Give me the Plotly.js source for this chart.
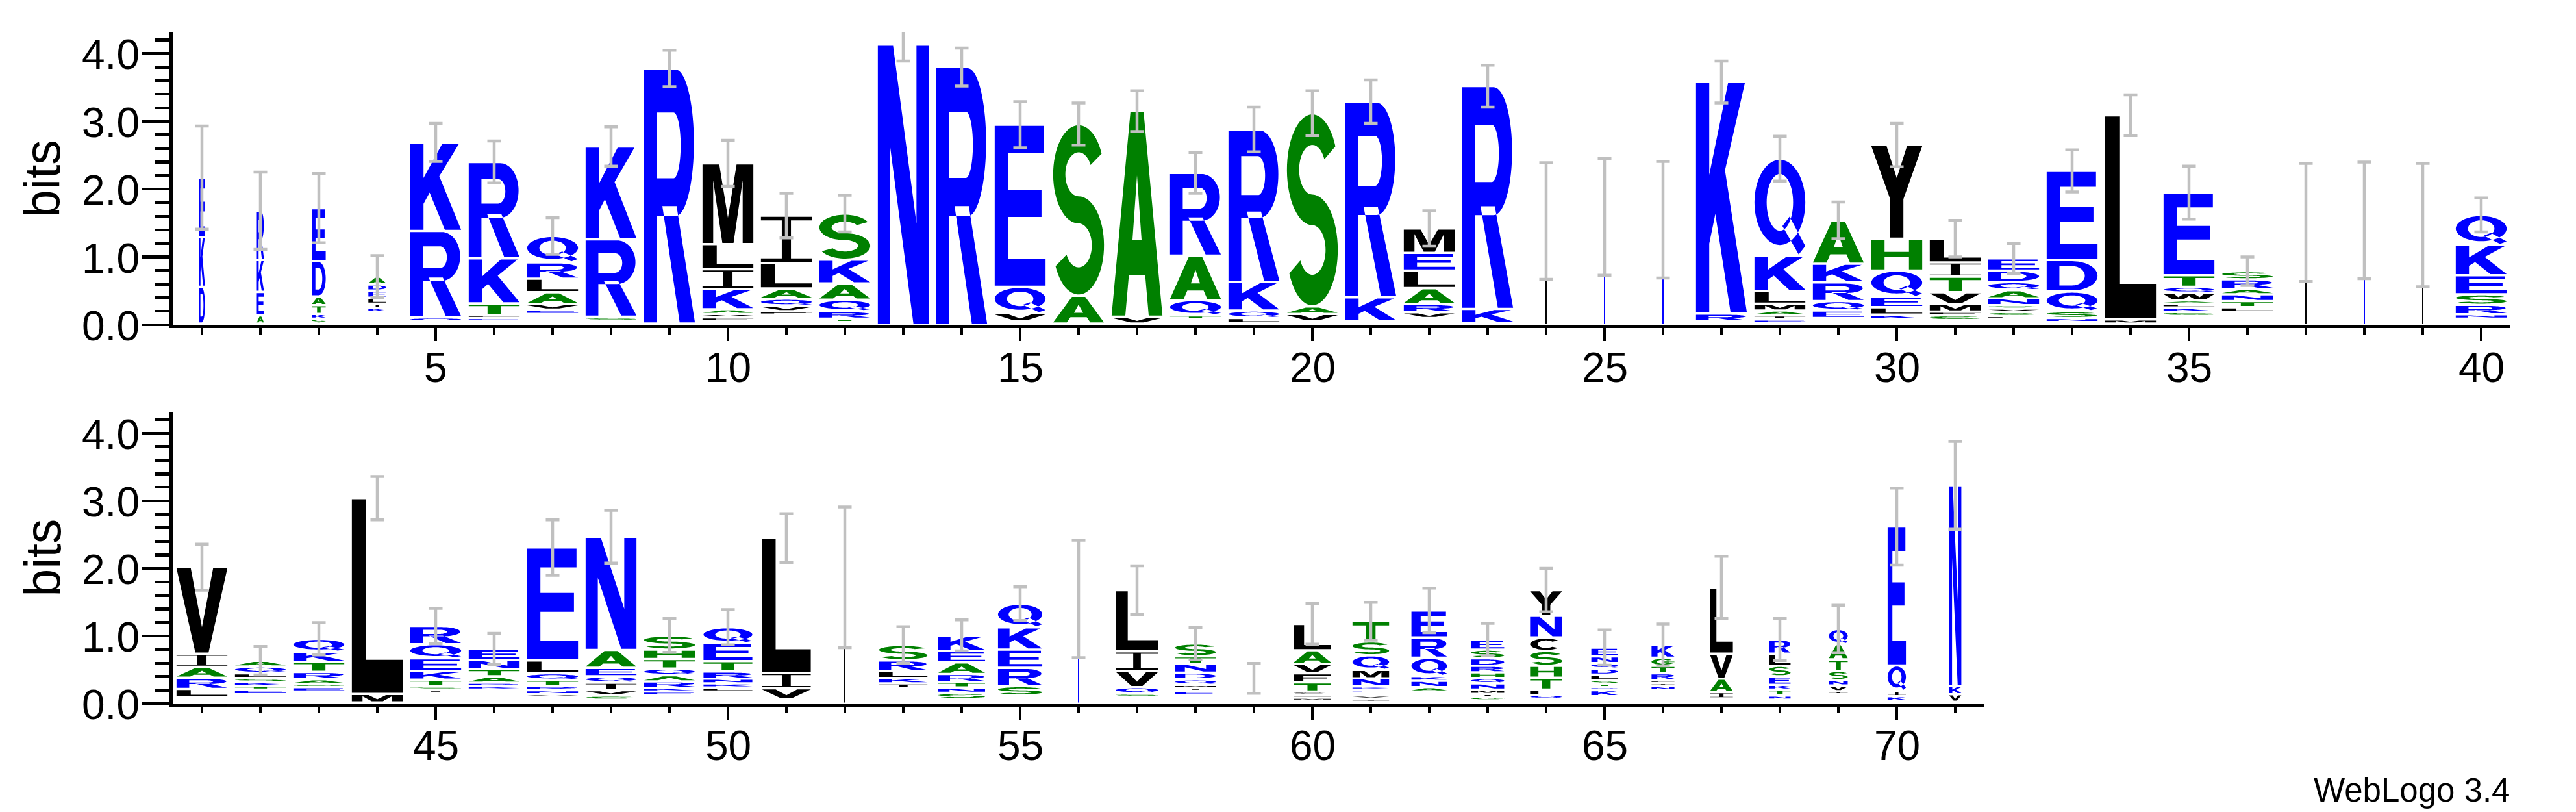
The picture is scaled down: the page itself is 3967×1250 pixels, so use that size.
<!DOCTYPE html>
<html>
<head>
<meta charset="utf-8">
<script src="https://cdn.plot.ly/plotly-3.0.1.min.js"></script>
<style>html,body{margin:0;padding:0;background:#fff;}</style>
</head>
<body>
<div id="chart" style="width:3967px;height:1250px;"></div>
<script>
const positions = [1,2,3,4,5,6,7,8,9,10,11,12,13,14,15,16,17,18,19,20,
  21,22,23,24,25,26,27,28,29,30,31,32,33,34,35,36,37,38,39,40,
  41,42,43,44,45,46,47,48,49,50,51,52,53,54,55,56,57,58,59,60,
  61,62,63,64,65,66,67,68,69,70,71];

// letters of each stack, listed bottom -> top
const stackLetters = ["DKE","AEKR","SKTADE","KILEDA","QRK","ELTKR","EVALRQ","SRK","R","FVAKILM",
  "FVQALI","TRQAKS","N","R","VQE","AS","VA","TQAR","LQKR","VAS",
  "KR","VRALEM","KR","L","K","E","RK","EIAMLKQ","EQRKA","KLEQHY",
  "SFMVTIL","LGVSNAQDE","NSQDE","ML","SKLAWQTE","LTNARS","L","K","V","NRSEKQ",
  "LRAIV","ETKSLQA","ESARTKQ","ML","ISTKEQR","KRATNE","VNRTQLE","SVIQEAN","EKRAQTHS","LKNRTEQ",
  "VIL","L","IKLRS","SNTRAEK","SREKQ","E","SQVIL","EIMQDNTS","","MICTFVAL",
  "IVLEKNMQST","ANKQRE","GIMNQHRDSE","QFTHSCNY","KRTSLDQNE","NILRTGK","IAVL","NTKESLR","IVNSTAQ","KIQE","VKN"];

// height (bits) of each letter, same order as stackLetters
const stackBits = [
  [0.54,0.73,0.88],[0.12,0.345,0.47,0.725],[0.07,0.07,0.13,0.13,0.52,0.78],[0.06,0.06,0.09,0.105,0.09,0.115],
  [0.06,1.275,1.305],[0.05,0.045,0.17,0.665,1.42],[0.065,0.08,0.175,0.2,0.24,0.39],[0.06,1.14,1.37],
  [3.76],[0.05,0.05,0.07,0.30,0.29,0.37,1.19],
  [0.05,0.08,0.105,0.15,0.375,0.70],[0.05,0.11,0.17,0.24,0.35,0.68],[4.13],[3.80],[0.12,0.39,2.39],
  [0.41,2.53],[0.10,3.03],[0.06,0.225,0.655,1.22],[0.07,0.11,0.425,2.245],[0.11,0.11,2.85],
  [0.355,2.885],[0.085,0.12,0.235,0.26,0.26,0.36],[0.205,3.285],[1.53],[1.59],[1.55],[0.115,3.415],
  [0.05,0.06,0.07,0.10,0.19,0.52,1.43],[0.11,0.14,0.275,0.275,0.64],[0.07,0.11,0.15,0.39,0.47,1.38],
  [0.07,0.055,0.11,0.175,0.23,0.21,0.35],[0.045,0.06,0.05,0.05,0.10,0.12,0.12,0.17,0.18],
  [0.06,0.10,0.29,0.465,1.315],[0.06,3.01],[0.06,0.065,0.055,0.05,0.11,0.09,0.17,1.22],
  [0.07,0.09,0.10,0.08,0.14,0.12],[1.51],[1.54],[1.47],[0.065,0.14,0.155,0.28,0.445,0.445],
  [0.12,0.165,0.16,0.195,1.28],[0.07,0.05,0.06,0.06,0.07,0.10,0.085],[0.065,0.045,0.07,0.11,0.15,0.15,0.19],
  [0.125,2.895],[0.05,0.045,0.10,0.125,0.19,0.21,0.27],[0.05,0.05,0.095,0.105,0.135,0.165],
  [0.045,0.06,0.06,0.09,0.10,0.19,1.67],[0.06,0.08,0.11,0.095,0.125,0.265,1.675],
  [0.06,0.055,0.095,0.09,0.10,0.14,0.14,0.21],[0.06,0.06,0.07,0.105,0.155,0.265,0.235],
  [0.16,0.225,1.995],[1.87],[0.07,0.08,0.10,0.16,0.23],[0.09,0.08,0.08,0.12,0.17,0.17,0.23],
  [0.14,0.27,0.27,0.33,0.35],[1.55],[0.05,0.095,0.24,0.29,0.905],[0.07,0.045,0.045,0.08,0.10,0.13,0.11,0.19],
  [],[0.045,0.045,0.045,0.135,0.135,0.14,0.20,0.39],
  [0.045,0.045,0.045,0.045,0.045,0.12,0.125,0.215,0.205,0.30],[0.065,0.095,0.07,0.27,0.30,0.40],
  [0.05,0.045,0.065,0.09,0.08,0.085,0.095,0.11,0.13,0.15],[0.06,0.08,0.175,0.175,0.22,0.20,0.32,0.38],
  [0.09,0.045,0.045,0.06,0.08,0.09,0.08,0.10,0.13],[0.06,0.045,0.045,0.10,0.11,0.12,0.19],
  [0.09,0.20,0.37,0.98],[0.06,0.09,0.07,0.125,0.155,0.18,0.21],[0.045,0.085,0.08,0.135,0.17,0.225,0.225],
  [0.07,0.08,0.375,2.055],[0.11,0.12,2.97]];

// bits from residues too rare to be printed (bottom of each stack)
const hiddenBits = [0.02,0.02,0.02,0.19,0.05,0.05,0.16,0.06,0.02,0.06,
  0.15,0.04,0,0,0.05,0.02,0.02,0.08,0.03,0.05,
  0.05,0.10,0.03,0,0,0,0.05,0.03,0.10,0.08,
  0.07,0.085,0.04,0.02,0.13,0.19,0,0,0,0.09,
  0.10,0.14,0.18,0.02,0.16,0.21,0.095,0.06,0.12,0.18,
  0.07,0,0.23,0.07,0.12,0,0.10,0.12,0.375,0.045,
  0.03,0.18,0.05,0.07,0.11,0.20,0.08,0.06,0.14,0.04,0.03];

// relative stack width (fraction of sequences occupying the column)
const stackWidth = [0.12,0.14,0.27,0.35,1,1,1,1,1,1,
  1,1,1,1,1,1,1,1,1,1,
  1,1,1,0.025,0.025,0.025,1,1,1,1,
  1,1,1,1,1,1,0.025,0.025,0.025,1,
  1,1,1,1,1,1,1,1,1,0.96,
  0.96,0.025,0.95,0.92,0.87,0.025,0.83,0.80,0.78,0.74,
  0.72,0.70,0.65,0.63,0.52,0.45,0.45,0.42,0.37,0.36,0.24];

// half-height of the error bar (bits)
const errorBits = [0.76,0.57,0.51,0.31,0.28,0.31,0.27,0.29,0.27,0.34,
  0.33,0.27,0.24,0.28,0.34,0.31,0.30,0.30,0.33,0.33,
  0.32,0.26,0.31,0.86,0.86,0.86,0.31,0.33,0.27,0.32,
  0.27,0.22,0.31,0.30,0.39,0.21,0.87,0.86,0.91,0.25,
  0.34,0.21,0.24,0.32,0.26,0.23,0.41,0.39,0.25,0.26,
  0.36,1.04,0.27,0.23,0.25,0.87,0.36,0.24,0.22,0.30,
  0.28,0.33,0.24,0.32,0.26,0.31,0.46,0.31,0.35,0.57,0.65];

const xTickLabels = ["5","10","15","20","25","30","35","40","45","50","55","60","65","70"];
const yTickValues = [0, 1, 2, 3, 4];
const yTickLabels = ["0.0","1.0","2.0","3.0","4.0"];

// ---------------- STYLE ----------------
const FONT = "Liberation Sans, Arial, Helvetica, sans-serif";
const BLUE = "#0000ff", GREEN = "#008000", BLACK = "#000000";
const letterColor = {};
"RKDENQ".split("").forEach(c => letterColor[c] = BLUE);
"SGHTAP".split("").forEach(c => letterColor[c] = GREEN);
"YVMCLFIW".split("").forEach(c => letterColor[c] = BLACK);
const FULL_W = 0.87;   // glyph width at full column occupancy (axis units)
const PAD = 0.017;     // vertical padding of each glyph box (bits)

// ---------------- GLYPH OUTLINES (unit box 0..100) ----------------
function arc(cx, cy, rx, ry, a0, a1, n) {
  n = n || 36; const p = [];
  for (let i = 0; i <= n; i++) {
    const a = (a0 + (a1 - a0) * i / n) * Math.PI / 180;
    p.push([cx + rx * Math.cos(a), cy + ry * Math.sin(a)]);
  }
  return p;
}
const GLYPHS = {
  A: [{p:[[0,0],[27,0],[34,20],[66,20],[73,0],[100,0],[63,100],[37,100]]},{p:[[41,37],[59,37],[50,69]],h:1}],
  C: [{p:arc(50,50,50,50,42,318,44).concat(arc(50,50,26,34,318,42,44))}],
  D: [{p:[[0,0],[50,0]].concat(arc(50,50,50,50,-90,90,36),[[0,100]])},
      {p:[[25,17],[50,17]].concat(arc(50,50,25,33,-90,90,36),[[25,83]]),h:1}],
  E: [{p:[[0,0],[100,0],[100,17],[26,17],[26,43],[92,43],[92,60],[26,60],[26,83],[97,83],[97,100],[0,100]]}],
  F: [{p:[[0,0],[26,0],[26,41],[88,41],[88,58],[26,58],[26,83],[100,83],[100,100],[0,100]]}],
  G: [{p:arc(50,50,50,50,40,360,44).concat(arc(50,50,26,34,360,40,44))},{p:[[52,38],[100,38],[100,55],[52,55]]}],
  H: [{p:[[0,0],[26,0],[26,42],[74,42],[74,0],[100,0],[100,100],[74,100],[74,59],[26,59],[26,100],[0,100]]}],
  I: [{p:[[0,0],[100,0],[100,8],[59,8],[59,92],[100,92],[100,100],[0,100],[0,92],[41,92],[41,8],[0,8]]}],
  K: [{p:[[0,0],[26,0],[26,30],[38,43],[68,0],[100,0],[57,62],[96,100],[63,100],[26,60],[26,100],[0,100]]}],
  L: [{p:[[0,0],[100,0],[100,17],[28,17],[28,100],[0,100]]}],
  M: [{p:[[0,0],[21,0],[21,80],[39,0],[61,0],[79,80],[79,0],[100,0],[100,100],[67,100],[50,32],[33,100],[0,100]]}],
  N: [{p:[[0,0],[24,0],[24,64],[70,0],[100,0],[100,100],[76,100],[76,36],[30,100],[0,100]]}],
  P: [{p:[[0,0],[25,0],[25,38],[60,38]].concat(arc(60,69,38,31,-90,90,36),[[0,100]])},
      {p:[[25,55],[58,55]].concat(arc(58,69,15,14,-90,90,30),[[25,83]]),h:1}],
  Q: [{p:arc(50,55,50,45,0,360,64)},{p:arc(50,55,26,30,0,360,64),h:1},{p:[[55,30],[69,40],[100,9],[87,0]]}],
  R: [{p:[[0,0],[25,0],[25,42],[62,42]].concat(arc(62,71,36,29,-90,90,36),[[0,100]])},
      {p:[[25,57],[58,57]].concat(arc(58,70,14,13,-90,90,30),[[25,83]]),h:1},
      {p:[[36,46],[64,46],[100,0],[70,0]]}],
  S: [{p:arc(50,71,50,29,25,270,44).concat(arc(50,71,26,13,270,25,44))},
      {p:arc(50,29,50,29,90,-155,44).concat(arc(50,29,26,13,-155,90,44))}],
  T: [{p:[[37,0],[63,0],[63,83],[100,83],[100,100],[0,100],[0,83],[37,83]]}],
  V: [{p:[[37,0],[63,0],[100,100],[72,100],[50,30],[28,100],[0,100]]}],
  W: [{p:[[17,0],[39,0],[50,62],[61,0],[83,0],[100,100],[79,100],[71,38],[61,100],[39,100],[29,38],[21,100],[0,100]]}],
  Y: [{p:[[37,0],[63,0],[63,42],[100,100],[70,100],[50,65],[30,100],[0,100],[37,42]]}]
};
function signedArea(p) {
  let a = 0;
  for (let i = 0; i < p.length; i++) {
    const q = p[i], r = p[(i + 1) % p.length];
    a += q[0] * r[1] - r[0] * q[1];
  }
  return a / 2;
}
function oriented(c) {
  const a = signedArea(c.p);
  const want = c.h ? -1 : 1;
  return (a * want < 0) ? c.p.slice().reverse() : c.p;
}
function glyphPath(ch, xc, w, y0, y1) {
  let s = "";
  for (const c of GLYPHS[ch]) {
    const p = oriented(c);
    s += "M" + p.map(([u, v]) =>
      (xc - w / 2 + u / 100 * w).toFixed(4) + "," + (y0 + v / 100 * (y1 - y0)).toFixed(4)).join("L") + "Z";
  }
  return s;
}

// ---------------- BUILD ----------------
const W = 3967, H = 1250;
const shapes = [];
const tops = [];
positions.forEach((pos, i) => {
  const panel = pos <= 40 ? 1 : 2;
  const xr = panel === 1 ? "x" : "x2", yr = panel === 1 ? "y" : "y2";
  const w = FULL_W * stackWidth[i];
  let y = hiddenBits[i];
  const letters = stackLetters[i].split("");
  letters.forEach((ch, k) => {
    const h = stackBits[i][k];
    const y0 = y + PAD, y1 = y + h - PAD;
    if (y1 - y0 > 0.002) {
      // very narrow columns are drawn as a solid sliver, like the reference
      const path = stackWidth[i] < 0.05
        ? "M" + (pos - w / 2).toFixed(4) + "," + y0.toFixed(4) + "L" + (pos + w / 2).toFixed(4) + "," + y0.toFixed(4) +
          "L" + (pos + w / 2).toFixed(4) + "," + y1.toFixed(4) + "L" + (pos - w / 2).toFixed(4) + "," + y1.toFixed(4) + "Z"
        : glyphPath(ch, pos, w, y0, y1);
      shapes.push({type: "path", xref: xr, yref: yr, layer: "below",
        path: path, fillcolor: letterColor[ch], line: {width: 0}});
    }
    y += h;
  });
  tops.push(y);
});

function errTrace(lo, hi, xa, ya) {
  const xs = [], ys = [], es = [];
  positions.forEach((p, i) => { if (p >= lo && p <= hi) { xs.push(p); ys.push(tops[i]); es.push(errorBits[i]); } });
  return {type: "scatter", mode: "markers", x: xs, y: ys, xaxis: xa, yaxis: ya,
    marker: {size: 2, color: "rgba(0,0,0,0)"}, cliponaxis: false, hoverinfo: "skip",
    error_y: {type: "data", array: es, visible: true, color: "#c0c0c0", thickness: 4.5, width: 10.5}};
}

function axisX(range, domain, anchor) {
  const tv = xTickLabels.map(Number).filter(v => v >= range[0] && v <= range[1]);
  return {range: range, domain: domain, anchor: anchor, showline: true, linewidth: 5, linecolor: "#000",
    ticks: "outside", tickmode: "array", tickvals: tv, showticklabels: false,
    ticklen: 20, tickwidth: 4.5, tickcolor: "#000",
    minor: {tickmode: "linear", tick0: 0, dtick: 1, ticks: "outside", ticklen: 10, tickwidth: 4.5, tickcolor: "#000", showgrid: false},
    showgrid: false, zeroline: false, fixedrange: true};
}
function axisY(domain, anchor) {
  return {range: [0, 4.32], domain: domain, anchor: anchor, showline: true, linewidth: 5, linecolor: "#000",
    ticks: "outside", tickmode: "array", tickvals: yTickValues, showticklabels: false,
    ticklen: 42, tickwidth: 4.5, tickcolor: "#000",
    minor: {tickmode: "linear", tick0: 0, dtick: 0.2, ticks: "outside", ticklen: 22, tickwidth: 4.5, tickcolor: "#000", showgrid: false},
    showgrid: false, zeroline: false, fixedrange: true};
}

// tick labels placed as text at the reference's offsets
const annotations = [];
xTickLabels.forEach(t => {
  const v = Number(t), top = v <= 40;
  annotations.push({text: t, xref: top ? "x" : "x2", yref: "paper", x: v, y: 1 - (top ? 566 : 1148) / H,
    xanchor: "center", yanchor: "middle", showarrow: false, font: {family: FONT, size: 64, color: "#000"}});
});
["y", "y2"].forEach(ya => yTickValues.forEach((v, k) => {
  annotations.push({text: yTickLabels[k], xref: "paper", yref: ya, x: 217 / W, y: v, yshift: -2,
    xanchor: "right", yanchor: "middle", showarrow: false, font: {family: FONT, size: 64, color: "#000"}});
}));
annotations.push(
  {text: "bits", xref: "paper", yref: "paper", x: 65 / W, y: 1 - 275 / H, xanchor: "center", yanchor: "middle",
   textangle: -90, showarrow: false, font: {family: FONT, size: 77, color: "#000"}},
  {text: "bits", xref: "paper", yref: "paper", x: 65 / W, y: 1 - 858.5 / H, xanchor: "center", yanchor: "middle",
   textangle: -90, showarrow: false, font: {family: FONT, size: 77, color: "#000"}},
  {text: "WebLogo 3.4", xref: "paper", yref: "paper", x: 3866 / W, y: 1 - 1246 / H, xanchor: "right", yanchor: "bottom",
   showarrow: false, borderpad: 0, font: {family: FONT, size: 51, color: "#000"}}
);

const layout = {
  width: W, height: H, margin: {l: 0, r: 0, t: 0, b: 0},
  paper_bgcolor: "#ffffff", plot_bgcolor: "#ffffff",
  font: {family: FONT, size: 64, color: "#000"},
  showlegend: false,
  xaxis: axisX([0.5, 40.5], [266 / W, 3866 / W], "y"),
  yaxis: axisY([1 - 500 / H, 1 - 49 / H], "x"),
  xaxis2: axisX([40.5, 71.5], [266 / W, 3056 / W], "y2"),
  yaxis2: axisY([1 - 1083.3 / H, 1 - 633.6 / H], "x2"),
  shapes: shapes,
  annotations: annotations
};

Plotly.newPlot("chart", [errTrace(1, 40, "x", "y"), errTrace(41, 71, "x2", "y2")], layout,
  {staticPlot: true, displayModeBar: false});
</script>
</body>
</html>
